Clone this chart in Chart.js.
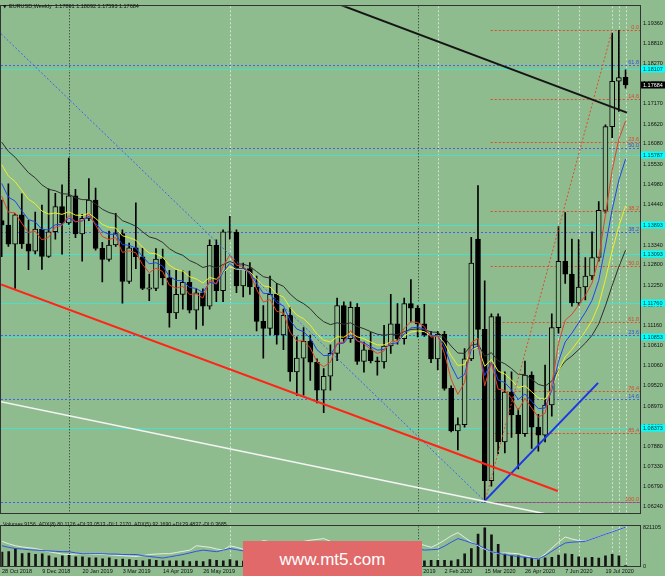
<!DOCTYPE html>
<html>
<head>
<meta charset="utf-8">
<script src="https://cdn.jsdelivr.net/npm/chart.js@4.4.1/dist/chart.umd.min.js"></script>
<style>
  html, body { margin: 0; padding: 0; background: #8fbc8f; }
  #wrap { position: relative; width: 665px; height: 576px; overflow: hidden; }
  #main { position: absolute; left: 0; top: 0; }
  #vol { position: absolute; left: 0; top: 520px; }
  #mark { position: absolute; left: 243px; top: 541px; width: 179px; height: 35px; background: #e26969;
          color: #fff; font: 17px "Liberation Sans", Arial, sans-serif; text-align: center; line-height: 37px; }
</style>
</head>
<body>
<div id="wrap">
  <canvas id="main" width="665" height="520"></canvas>
  <canvas id="vol" width="665" height="56"></canvas>
  <div id="mark">www.mt5.com</div>
</div>
<script>
// weekly EURUSD bars, week 0 = 28 Oct 2018 ... week 93 = 9 Aug 2020
const opens = [1.1400,1.1388,1.1336,1.1416,1.1337,1.1317,1.1377,1.1303,1.1370,1.1438,
  1.1394,1.1467,1.1364,1.1406,1.1456,1.1325,1.1295,1.1334,1.1365,1.1235,
  1.1326,1.1302,1.1214,1.1216,1.1296,1.1245,1.1150,1.1200,1.1233,1.1157,
  1.1204,1.1168,1.1333,1.1210,1.1370,1.1369,1.1223,1.1270,1.1220,1.1127,
  1.1108,1.1200,1.1090,1.1143,1.0990,1.1027,1.1073,1.1016,1.0940,1.0978,
  1.1040,1.1170,1.1080,1.1165,1.1018,1.1050,1.1020,1.1017,1.1060,1.1120,
  1.1080,1.1175,1.1163,1.1120,1.1090,1.1025,1.1092,1.0945,1.0830,1.0847,
  1.1025,1.1350,1.1105,1.0695,1.1140,1.0800,1.0935,1.0873,1.0822,1.0981,
  1.0840,1.0818,1.0900,1.1110,1.1290,1.1255,1.1177,1.1220,1.1250,1.1300,
  1.1428,1.1655,1.1778,1.1789];
const highs = [1.1456,1.1500,1.1420,1.1473,1.1401,1.1423,1.1442,1.1486,1.1474,1.1497,
  1.1570,1.1485,1.1417,1.1514,1.1488,1.1341,1.1372,1.1420,1.1375,1.1339,
  1.1448,1.1325,1.1255,1.1324,1.1323,1.1265,1.1265,1.1264,1.1263,1.1215,
  1.1215,1.1348,1.1348,1.1375,1.1412,1.1375,1.1285,1.1286,1.1250,1.1170,
  1.1250,1.1230,1.1160,1.1165,1.1085,1.1110,1.1090,1.1025,1.0999,1.1063,
  1.1190,1.1180,1.1180,1.1175,1.1071,1.1097,1.1030,1.1116,1.1200,1.1175,
  1.1190,1.1240,1.1170,1.1173,1.1100,1.1100,1.1100,1.0952,1.0865,1.1053,
  1.1355,1.1495,1.1237,1.1147,1.1147,1.0990,1.0990,1.0890,1.1019,1.0990,
  1.0875,1.1008,1.1147,1.1384,1.1422,1.1350,1.1349,1.1300,1.1370,1.1452,
  1.1660,1.1909,1.1916,1.1809];
const lows = [1.1302,1.1330,1.1216,1.1325,1.1267,1.1310,1.1268,1.1300,1.1350,1.1309,
  1.1390,1.1354,1.1290,1.1400,1.1320,1.1234,1.1290,1.1330,1.1176,1.1230,
  1.1270,1.1213,1.1183,1.1210,1.1226,1.1111,1.1134,1.1160,1.1150,1.1106,
  1.1116,1.1160,1.1180,1.1180,1.1350,1.1205,1.1193,1.1200,1.1101,1.1027,
  1.1090,1.1065,1.1050,1.0965,1.0926,1.0927,1.0967,1.0906,1.0879,1.0940,
  1.1020,1.1070,1.1070,1.1010,1.0989,1.1014,1.0981,1.1000,1.1040,1.1065,
  1.1065,1.1125,1.1085,1.1086,1.1015,1.0995,1.0940,1.0827,1.0778,1.0840,
  1.1020,1.1055,1.0636,1.0680,1.0768,1.0770,1.0812,1.0727,1.0815,1.0782,
  1.0775,1.0800,1.0870,1.1095,1.1230,1.1168,1.1170,1.1185,1.1240,1.1290,
  1.1420,1.1625,1.1696,1.1759];
const closes = [1.1388,1.1336,1.1416,1.1337,1.1317,1.1377,1.1303,1.1370,1.1438,1.1394,
  1.1467,1.1364,1.1406,1.1456,1.1325,1.1295,1.1334,1.1365,1.1235,1.1326,
  1.1302,1.1216,1.1218,1.1296,1.1245,1.1150,1.1200,1.1233,1.1157,1.1204,
  1.1168,1.1333,1.1210,1.1370,1.1369,1.1223,1.1270,1.1220,1.1127,1.1108,
  1.1200,1.1090,1.1143,1.0990,1.1027,1.1073,1.1016,1.0940,1.0978,1.1040,
  1.1170,1.1080,1.1165,1.1018,1.1050,1.1020,1.1017,1.1060,1.1120,1.1080,
  1.1175,1.1163,1.1120,1.1090,1.1025,1.1092,1.0945,1.0830,1.0847,1.1025,
  1.1285,1.1105,1.0695,1.1140,1.0800,1.0935,1.0873,1.0822,1.0981,1.0840,
  1.0818,1.0900,1.1110,1.1290,1.1255,1.1177,1.1220,1.1250,1.1300,1.1428,
  1.1655,1.1778,1.1788,1.1768];

// moving averages (red, blue, yellow, dark)
const maRed = [1.1466,1.1423,1.1421,1.1393,1.1368,1.1371,1.1348,1.1355,1.1383,1.1387,
  1.1414,1.1397,1.1400,1.1419,1.1388,1.1357,1.1349,1.1354,1.1314,1.1318,
  1.1313,1.1281,1.1259,1.1271,1.1262,1.1225,1.1217,1.1222,1.1200,1.1201,
  1.1190,1.1238,1.1229,1.1276,1.1307,1.1279,1.1276,1.1257,1.1214,1.1179,
  1.1186,1.1154,1.1150,1.1097,1.1074,1.1074,1.1055,1.1017,1.1004,1.1016,
  1.1067,1.1071,1.1102,1.1074,1.1066,1.1051,1.1040,1.1047,1.1071,1.1074,
  1.1108,1.1126,1.1124,1.1113,1.1084,1.1087,1.1040,1.0970,1.0929,1.0961,
  1.1069,1.1081,1.0952,1.1015,1.0943,1.0940,1.0918,1.0886,1.0918,1.0892,
  1.0867,1.0878,1.0955,1.1067,1.1130,1.1146,1.1171,1.1197,1.1231,1.1297,
  1.1416,1.1537,1.1621,1.1670];
const maBlue = [1.1501,1.1464,1.1453,1.1427,1.1403,1.1397,1.1376,1.1375,1.1389,1.1390,
  1.1407,1.1397,1.1399,1.1412,1.1393,1.1371,1.1363,1.1363,1.1335,1.1333,
  1.1326,1.1302,1.1283,1.1286,1.1277,1.1249,1.1238,1.1237,1.1219,1.1216,
  1.1205,1.1233,1.1228,1.1260,1.1284,1.1270,1.1270,1.1259,1.1230,1.1203,
  1.1202,1.1177,1.1169,1.1129,1.1106,1.1099,1.1081,1.1050,1.1034,1.1035,
  1.1065,1.1068,1.1090,1.1074,1.1069,1.1058,1.1049,1.1051,1.1066,1.1069,
  1.1093,1.1109,1.1111,1.1106,1.1088,1.1089,1.1057,1.1007,1.0971,1.0983,
  1.1050,1.1062,1.0980,1.1016,1.0968,1.0961,1.0941,1.0915,1.0930,1.0910,
  1.0890,1.0892,1.0940,1.1018,1.1071,1.1095,1.1123,1.1151,1.1184,1.1238,
  1.1331,1.1430,1.1510,1.1567];
const maYellow = [1.1552,1.1521,1.1506,1.1482,1.1458,1.1446,1.1426,1.1418,1.1421,1.1417,
  1.1424,1.1415,1.1414,1.1420,1.1406,1.1390,1.1382,1.1380,1.1359,1.1354,
  1.1347,1.1328,1.1312,1.1310,1.1301,1.1279,1.1268,1.1263,1.1248,1.1242,
  1.1231,1.1246,1.1241,1.1259,1.1275,1.1268,1.1268,1.1261,1.1242,1.1223,
  1.1220,1.1201,1.1193,1.1164,1.1144,1.1134,1.1117,1.1092,1.1076,1.1071,
  1.1085,1.1084,1.1096,1.1085,1.1080,1.1071,1.1063,1.1063,1.1071,1.1072,
  1.1087,1.1098,1.1101,1.1099,1.1088,1.1089,1.1068,1.1034,1.1007,1.1010,
  1.1049,1.1057,1.1005,1.1024,1.0992,1.0984,1.0968,1.0947,1.0952,1.0936,
  1.0919,1.0916,1.0944,1.0993,1.1030,1.1051,1.1075,1.1100,1.1129,1.1172,
  1.1241,1.1318,1.1385,1.1440];
const maDark = [1.1613,1.1588,1.1572,1.1551,1.1530,1.1516,1.1497,1.1485,1.1481,1.1473,
  1.1472,1.1462,1.1457,1.1457,1.1445,1.1431,1.1422,1.1417,1.1400,1.1393,
  1.1385,1.1370,1.1356,1.1351,1.1341,1.1324,1.1313,1.1306,1.1292,1.1284,
  1.1273,1.1278,1.1272,1.1281,1.1289,1.1283,1.1282,1.1276,1.1262,1.1248,
  1.1244,1.1230,1.1222,1.1201,1.1185,1.1175,1.1161,1.1141,1.1126,1.1118,
  1.1123,1.1119,1.1123,1.1113,1.1107,1.1099,1.1092,1.1089,1.1092,1.1091,
  1.1099,1.1105,1.1106,1.1105,1.1098,1.1097,1.1083,1.1060,1.1041,1.1040,
  1.1062,1.1066,1.1032,1.1042,1.1020,1.1012,1.0999,1.0983,1.0983,1.0970,
  1.0956,1.0951,1.0965,1.0995,1.1019,1.1033,1.1050,1.1068,1.1089,1.1120,
  1.1169,1.1224,1.1275,1.1320];

const volumes = [299000,311000,373000,267000,280000,249000,261000,218000,174000,218000,
  249000,199000,199000,174000,174000,155000,174000,137000,149000,137000,
  124000,112000,137000,124000,112000,112000,112000,112000,93000,106000,
  93000,137000,124000,112000,137000,112000,105000,110000,118000,125000,
  120000,128000,115000,135000,118000,110000,102000,108000,112000,115000,
  130000,112000,105000,118000,100000,98000,88000,102000,110000,96000,
  85000,90000,104000,112000,124000,124000,124000,112000,137000,261000,
  373000,684000,821105,672000,467000,261000,218000,218000,187000,174000,
  137000,174000,187000,236000,261000,249000,199000,174000,187000,168000,
  218000,249000,218000,9156];
const adxLight = [62,56,51,48,46,44,40,36,33,30, 29,30,31,30,29,29,28,27,26,25,
  24,26,29,30,31,31,34,37,40,51, 49,47,43,40,51,47,42,50,58,64,
  61,57,54,53,58,62,65,67,69,62, 53,55,58,56,54,57,60,58,56,59,
  61,62,57,52,47,55,65,76,84,72, 60,51,42,36,31,33,32,31,26,22,
  18,30,45,60,73,68,64,62,68,74, 80,87,93,98];
const adxBlue = [51,47,44,43,41,40,39,38,37,36, 36,33,31,31,31,31,30,30,29,29,
  29,26,24,22,20,23,26,29,33,37, 40,38,36,40,44,41,38,43,47,51,
  53,54,55,55,56,57,58,58,56,53, 51,52,53,53,52,52,53,53,52,51,
  50,47,43,40,41,42,50,60,69,64, 58,53,44,36,32,29,26,24,22,20,
  18,26,37,48,58,60,61,62,68,74, 80,86,92,98];

const priceTicks = [1.19360,1.18810,1.18270,1.17720,1.17170,1.16620,1.16080,1.15530,1.14980,
  1.14440,1.13890,1.13340,1.12800,1.12250,1.11700,1.11160,1.10610,1.10060,1.09520,1.08970,
  1.08430,1.07880,1.07330,1.06790,1.06240];
const tickWeeks = [0,6,12,18,24,30,36,42,48,54,60,66,72,78,84,90];
const tickText = ['28 Oct 2018','9 Dec 2018','20 Jan 2019','3 Mar 2019','14 Apr 2019','26 May 2019',
  '7 Jul 2019','18 Aug 2019','29 Sep 2019','10 Nov 2019','22 Dec 2019','2 Feb 2020',
  '15 Mar 2020','26 Apr 2020','7 Jun 2020','19 Jul 2020'];

// drawn objects
const cyanLevels = [1.18107,1.15787,1.13893,1.13093,1.11760,1.10853,1.08373];
const blueFibLevels = [1.0636,1.0916,1.1089,1.1369,1.1596,1.1822];
const blueFibText = ['','14.6','23.6','38.2','50.0','61.8'];
const redFibLevels = [1.1916,1.1729,1.1614,1.1427,1.1276,1.1125,1.0938,1.0823,1.0636];
const redFibText = ['0.0','14.6','23.6','38.2','50.0','61.8','76.4','85.4','100.0'];
const redFibStart = 72.9;
const yearMarks = [10, 62];
const markWeeks = [34, 65, 83, 86, 91, 92, 93];
const blackTrend = [[49.8, 1.1990], [93.2, 1.1693]];
const redTrend = [[-0.1, 1.1227], [82.9, 1.0667]];
const whiteTrend = [[-0.1, 1.0909], [81.0, 1.0605]];
const blueTrend = [[72.0, 1.0640], [88.9, 1.0960]];
const blueDotTrend = [[-0.1, 1.1907], [72.0, 1.0640]];
const redDotTrend = [[72.0, 1.0636], [91.0, 1.1916]];
const lastPrice = 1.17684;

const BG = '#8fbc8f';
const FONT = '"Liberation Sans", Arial, sans-serif';
const xMin = -0.1, xMax = 95.15;
Chart.defaults.font.family = FONT;
Chart.defaults.font.size = 5.5;
Chart.defaults.color = '#101010';

const series = vals => vals.map((v, i) => ({ x: i, y: v }));
const seg = pts => pts.map(p => ({ x: p[0], y: p[1] }));
const lineSet = (data, color, width, order, dash) => ({
  type: 'line', data, borderColor: color, borderWidth: width, pointRadius: 0,
  borderDash: dash || [], order, yAxisID: 'y'
});

function stroke(ctx, x0, y0, x1, y1) {
  ctx.beginPath(); ctx.moveTo(x0, y0); ctx.lineTo(x1, y1); ctx.stroke();
}

function drawVerticals(chart) {
  const { ctx, chartArea: a, scales: { x } } = chart;
  ctx.lineWidth = 1;
  ctx.strokeStyle = '#2a2a2a'; ctx.setLineDash([1, 2]);
  yearMarks.forEach(k => { const px = Math.round(x.getPixelForValue(k)) + 0.5; stroke(ctx, px, a.top, px, a.bottom); });
  ctx.strokeStyle = 'rgba(235,242,235,0.75)'; ctx.setLineDash([2, 2]);
  markWeeks.forEach(k => { const px = Math.round(x.getPixelForValue(k)) + 0.5; stroke(ctx, px, a.top, px, a.bottom); });
  ctx.setLineDash([]);
}

const mainDecor = {
  id: 'mainDecor',
  beforeDatasetsDraw(chart) {
    const { ctx, chartArea: a, scales: { x, y } } = chart;
    ctx.save();
    ctx.beginPath(); ctx.rect(a.left, a.top, a.right - a.left, a.bottom - a.top); ctx.clip();
    drawVerticals(chart);
    ctx.strokeStyle = '#46e0cc';
    cyanLevels.forEach(p => { const py = Math.round(y.getPixelForValue(p)) + 0.5; stroke(ctx, a.left, py, a.right, py); });
    ctx.strokeStyle = '#3d62f2'; ctx.setLineDash([2, 2]);
    blueFibLevels.forEach(p => { const py = Math.round(y.getPixelForValue(p)) + 0.5; stroke(ctx, a.left, py, a.right, py); });
    ctx.strokeStyle = '#de4a2c';
    const rx0 = x.getPixelForValue(redFibStart);
    redFibLevels.forEach(p => { const py = Math.round(y.getPixelForValue(p)) + 0.5; stroke(ctx, rx0, py, a.right, py); });
    ctx.restore();
  },
  afterDatasetsDraw(chart) {
    const { ctx, chartArea: a, scales: { y } } = chart;
    ctx.save();
    ctx.font = '5.5px ' + FONT;
    ctx.textAlign = 'right'; ctx.textBaseline = 'alphabetic';
    ctx.fillStyle = '#2f52e0';
    blueFibLevels.forEach((p, i) => { if (blueFibText[i]) ctx.fillText(blueFibText[i], a.right - 1, y.getPixelForValue(p) - 1); });
    ctx.fillStyle = '#e0452a';
    redFibLevels.forEach((p, i) => ctx.fillText(redFibText[i], a.right - 1, y.getPixelForValue(p) - 1));
    // frame
    ctx.strokeStyle = '#333'; ctx.lineWidth = 1;
    ctx.strokeRect(Math.round(a.left) - 0.5, Math.round(a.top) - 0.5, Math.round(a.right - a.left) + 1, Math.round(a.bottom - a.top) + 1);
    // title
    ctx.textAlign = 'left'; ctx.textBaseline = 'middle'; ctx.fillStyle = '#111';
    ctx.font = '4.5px DejaVu Sans';
    ctx.fillText('\u25BC', 3, 6.5);
    ctx.font = '5.5px ' + FONT;
    ctx.fillText('EURUSD,Weekly  1.17891 1.18092 1.17593 1.17684', 9, 6.5);
    ctx.restore();
  },
  afterDraw(chart) {
    const { ctx, chartArea: a, scales: { y } } = chart;
    ctx.save();
    ctx.font = '5.5px ' + FONT;
    ctx.textAlign = 'left'; ctx.textBaseline = 'middle';
    const box = (p, bg, fg) => {
      const py = Math.round(y.getPixelForValue(p));
      ctx.fillStyle = bg; ctx.fillRect(a.right + 1, py - 3.5, 24, 7);
      ctx.fillStyle = fg; ctx.fillText(p.toFixed(5), a.right + 3, py + 0.5);
    };
    cyanLevels.forEach(p => box(p, '#00ffff', '#103030'));
    box(lastPrice, '#000', '#fff');
    ctx.restore();
  }
};

new Chart(document.getElementById('main'), {
  type: 'bar',
  data: {
    datasets: [
      lineSet(seg(blackTrend), '#151515', 2, 0),
      lineSet(seg(redTrend), '#ff2418', 2, 0),
      lineSet(seg(whiteTrend), '#f4f4f4', 1.5, 0),
      lineSet(seg(blueTrend), '#1a36e6', 2, 0),
      lineSet(seg(blueDotTrend), '#3d62f2', 1, 1, [2, 2]),
      lineSet(seg(redDotTrend), '#de4a2c', 1, 1, [2, 2]),
      lineSet(series(maRed), '#e2412c', 1, 3),
      lineSet(series(maBlue), '#1f44ee', 1, 4),
      lineSet(series(maYellow), '#eeee2a', 1, 5),
      lineSet(series(maDark), '#2e2e2e', 1, 6),
      {
        type: 'bar', data: opens.map((o, i) => ({ x: i, y: [o, closes[i]] })),
        backgroundColor: opens.map((o, i) => closes[i] >= o ? BG : '#000'),
        borderColor: '#000', borderWidth: 1, borderSkipped: false,
        barThickness: 5, grouped: false, order: 11, yAxisID: 'y'
      },
      {
        type: 'bar', data: lows.map((l, i) => ({ x: i, y: [l, highs[i]] })),
        backgroundColor: '#000', borderWidth: 0, barThickness: 1, grouped: false, order: 12, yAxisID: 'y'
      }
    ]
  },
  options: {
    responsive: false, animation: false,
    layout: { padding: { left: 1, top: 2, right: 0, bottom: 2 }, autoPadding: false },
    plugins: { legend: { display: false }, tooltip: { enabled: false } },
    scales: {
      x: { type: 'linear', min: xMin, max: xMax, offset: false, display: false },
      y: {
        position: 'right', min: 1.06053, max: 1.19813,
        grid: { display: false, drawTicks: false }, border: { display: false },
        afterFit: s => { s.width = 25; },
        afterBuildTicks: s => { s.ticks = priceTicks.map(v => ({ value: v })); },
        ticks: { padding: 3, autoSkip: false, callback: v => v.toFixed(5) }
      }
    }
  },
  plugins: [mainDecor]
});

const volDecor = {
  id: 'volDecor',
  beforeDatasetsDraw(chart) {
    const { ctx, chartArea: a } = chart;
    ctx.save();
    ctx.beginPath(); ctx.rect(a.left, a.top, a.right - a.left, a.bottom - a.top); ctx.clip();
    drawVerticals(chart);
    ctx.restore();
  },
  afterDraw(chart) {
    const { ctx, chartArea: a } = chart;
    ctx.save();
    ctx.strokeStyle = '#333'; ctx.lineWidth = 1;
    ctx.strokeRect(Math.round(a.left) - 0.5, Math.round(a.top) - 0.5, Math.round(a.right - a.left) + 1, Math.round(a.bottom - a.top) + 1);
    ctx.fillStyle = '#111'; ctx.font = '5.2px ' + FONT;
    ctx.textAlign = 'left'; ctx.textBaseline = 'middle';
    ctx.fillText('Volumes 9156  ADX(8) 80.1126 +DI:33.0513 -DI:1.2170  ADX(5) 92.1690 +DI:29.4837 -DI:0.3685', 3, 4.8);
    ctx.restore();
  }
};

new Chart(document.getElementById('vol'), {
  type: 'bar',
  data: {
    datasets: [
      { type: 'line', data: series(adxLight), borderColor: '#e4eee0', borderWidth: 1, pointRadius: 0, yAxisID: 'y2', order: 1 },
      { type: 'line', data: series(adxBlue), borderColor: '#2f52e6', borderWidth: 1, pointRadius: 0, yAxisID: 'y2', order: 0 },
      { type: 'bar', data: series(volumes), backgroundColor: '#141414', barThickness: 2, grouped: false, yAxisID: 'y', order: 2 }
    ]
  },
  options: {
    responsive: false, animation: false,
    layout: { padding: { left: 1, top: 1, right: 0, bottom: 0 }, autoPadding: false },
    plugins: { legend: { display: false }, tooltip: { enabled: false } },
    scales: {
      x: {
        type: 'linear', min: xMin, max: xMax, offset: false, position: 'bottom',
        grid: { display: false, drawTicks: false }, border: { display: false },
        afterFit: s => { s.height = 10; },
        afterBuildTicks: s => { s.ticks = tickWeeks.map(v => ({ value: v })); },
        ticks: { align: 'start', padding: 2, maxRotation: 0, autoSkip: false,
                 callback: v => tickText[tickWeeks.indexOf(v)] }
      },
      y: {
        position: 'right', min: 0, max: 853000,
        grid: { display: false, drawTicks: false }, border: { display: false },
        afterFit: s => { s.width = 25; },
        afterBuildTicks: s => { s.ticks = [{ value: 0 }, { value: 821105 }]; },
        ticks: { padding: 3, autoSkip: false, callback: v => String(v) }
      },
      y2: { display: false, min: 0, max: 100 }
    }
  },
  plugins: [volDecor]
});
</script>
</body>
</html>
